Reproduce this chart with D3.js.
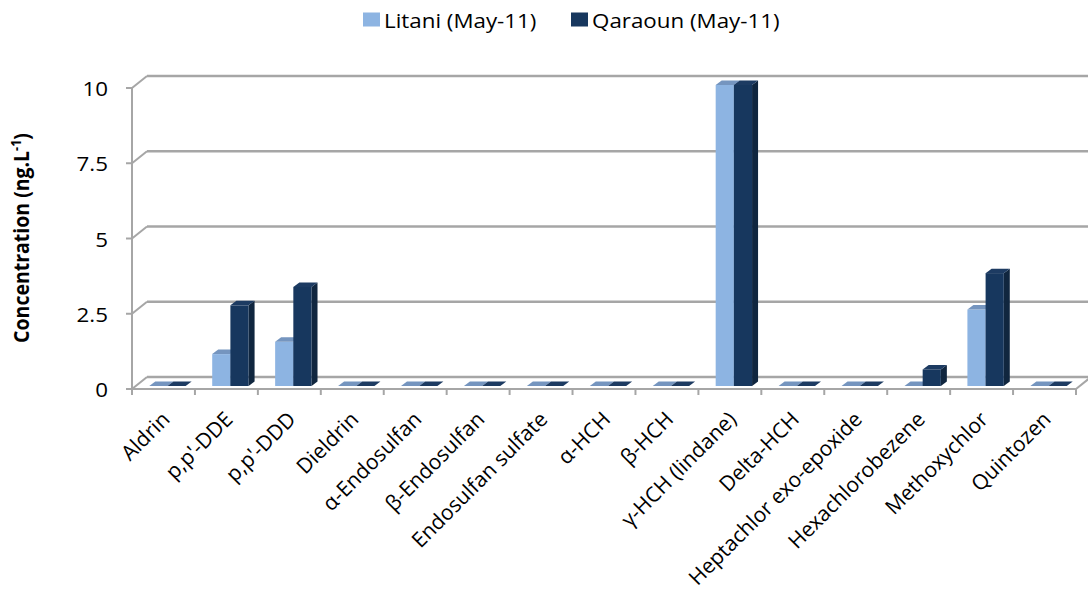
<!DOCTYPE html>
<html>
<head>
<meta charset="utf-8">
<script src="https://cdn.jsdelivr.net/npm/d3@7"></script>
<style>
  html, body { margin: 0; padding: 0; background: #fff; }
  svg { display: block; }
  text { font-family: "Open Sans", "Noto Sans", sans-serif; fill: #000; }
</style>
</head>
<body>
<svg id="chart" width="1088" height="599"></svg>
<script>
// Pesticide concentrations, May 2011
const categories = ["Aldrin", "p,p'-DDE", "p,p'-DDD", "Dieldrin", "\u03b1-Endosulfan",
  "\u03b2-Endosulfan", "Endosulfan sulfate", "\u03b1-HCH", "\u03b2-HCH", "\u03b3-HCH (lindane)",
  "Delta-HCH", "Heptachlor exo-epoxide", "Hexachlorobezene", "Methoxychlor", "Quintozen"];
const seriesNames = ["Litani (May-11)", "Qaraoun (May-11)"];
const litani  = [0, 1.06, 1.47, 0, 0, 0, 0, 0, 0, 10, 0, 0, 0, 2.54, 0];
const qaraoun = [0, 2.68, 3.29, 0, 0, 0, 0, 0, 0, 10, 0, 0, 0.55, 3.75, 0];
const yTicks = [0, 2.5, 5, 7.5, 10];
const yTickLabels = ["0", "2.5", "5", "7.5", "10"];

const colors = {
  front: ["#8db4e2", "#17375e"],
  top:   ["#7595bf", "#1d3b62"],
  side:  ["#6f8db5", "#10263f"]
};

const svg = d3.select("#chart");
const SX = 1.09;        // horizontal widening of the text
const FS = 20.5;        // base font size
const LFS = 21;         // slanted category labels

// front plane of the box and the oblique depth offsets
const x = d3.scaleBand().domain(categories).range([132, 1076]);
const y = d3.scaleLinear().domain([0, 10]).range([389, 88]);
const wall = { dx: 15, dy: -12 };     // back wall depth
const plane = { dx: 4, dy: -3 };      // bars' front plane
const depth = { dx: 6, dy: -4.5 };    // bar thickness
const inner = d3.scaleBand().domain([0, 1]).range([0, x.bandwidth()]).paddingOuter(0.73);

const gridColor = "#a6a6a6";
const g = svg.append("g");

// back wall gridlines
g.selectAll("line.grid").data(yTicks).join("line")
  .attr("x1", 132 + wall.dx).attr("x2", 1076 + wall.dx)
  .attr("y1", d => y(d) + wall.dy).attr("y2", d => y(d) + wall.dy)
  .attr("stroke", gridColor).attr("stroke-width", 2.4);

// left wall: diagonal gridline stubs
g.selectAll("line.diag").data(yTicks).join("line")
  .attr("x1", 132).attr("x2", 132 + wall.dx)
  .attr("y1", d => y(d)).attr("y2", d => y(d) + wall.dy)
  .attr("stroke", gridColor).attr("stroke-width", 2);

// floor right edge
g.append("line")
  .attr("x1", 1076).attr("x2", 1076 + wall.dx)
  .attr("y1", y(0)).attr("y2", y(0) + wall.dy)
  .attr("stroke", gridColor).attr("stroke-width", 2);

// bars
const bars = [];
categories.forEach((c, i) => {
  [litani[i], qaraoun[i]].forEach((v, s) => {
    bars.push({ c, s, v });
  });
});

const barG = svg.append("g");
bars.forEach(b => {
  const x0 = x(b.c) + inner(b.s) + plane.dx;
  const w = inner.bandwidth();
  const yb = y(0) + plane.dy;
  const yt = y(b.v) + plane.dy;
  const gg = barG.append("g");
  // right side face
  gg.append("path")
    .attr("d", `M${x0 + w},${yb}L${x0 + w + depth.dx},${yb + depth.dy}L${x0 + w + depth.dx},${yt + depth.dy}L${x0 + w},${yt}Z`)
    .attr("fill", colors.side[b.s]);
  // front face
  if (b.v > 0) {
    gg.append("rect")
      .attr("x", x0).attr("y", yt).attr("width", w).attr("height", yb - yt)
      .attr("fill", colors.front[b.s]);
  }
  // top face
  gg.append("path")
    .attr("d", `M${x0},${yt}L${x0 + w},${yt}L${x0 + w + depth.dx},${yt + depth.dy}L${x0 + depth.dx},${yt + depth.dy}Z`)
    .attr("fill", colors.top[b.s]);
});

// front axes
const axG = svg.append("g");
axG.append("line")
  .attr("x1", 132).attr("x2", 1076).attr("y1", y(0)).attr("y2", y(0))
  .attr("stroke", gridColor).attr("stroke-width", 2);
axG.append("line")
  .attr("x1", 132).attr("x2", 132).attr("y1", y(10)).attr("y2", y(0))
  .attr("stroke", gridColor).attr("stroke-width", 2);
const xTickPos = categories.map(c => x(c)).concat([x(categories[categories.length - 1]) + x.bandwidth()]);
axG.selectAll("line.xt").data(xTickPos).join("line")
  .attr("x1", d => d).attr("x2", d => d).attr("y1", y(0)).attr("y2", y(0) + 6)
  .attr("stroke", gridColor).attr("stroke-width", 2);
axG.selectAll("line.yt").data(yTicks).join("line")
  .attr("x1", 126).attr("x2", 132).attr("y1", d => y(d)).attr("y2", d => y(d))
  .attr("stroke", gridColor).attr("stroke-width", 2);

// y tick labels
axG.selectAll("text.yl").data(yTicks).join("text")
  .attr("transform", d => `translate(108,${y(d)}) scale(${SX},1)`)
  .attr("text-anchor", "end").attr("dominant-baseline", "central")
  .attr("font-size", FS)
  .text((d, i) => yTickLabels[i]);

// category labels, slanted
axG.selectAll("text.xl").data(categories).join("text")
  .attr("transform", d => `translate(${x(d) + x.bandwidth() / 2 + 2},${y(0) + 26}) rotate(-45)`)
  .attr("text-anchor", "end").attr("dominant-baseline", "central")
  .attr("font-size", LFS)
  .text(d => d);

// y axis title
const title = svg.append("text")
  .attr("transform", `translate(29,238) scale(${SX + 0.05},1) rotate(-90)`)
  .attr("text-anchor", "middle")
  .attr("font-size", 19.5).attr("font-weight", "bold");
title.append("tspan").text("Concentration (ng.L");
title.append("tspan").attr("font-size", 12.5).attr("dy", -7).text("-1");
title.append("tspan").attr("dy", 7).text(")");

// legend
const legend = svg.append("g");
const legendX = [363, 571];
seriesNames.forEach((n, i) => {
  legend.append("rect")
    .attr("x", legendX[i]).attr("y", 12.5).attr("width", 17).attr("height", 14)
    .attr("fill", colors.front[i]);
  legend.append("text")
    .attr("transform", `translate(${legendX[i] + 21},19.5) scale(${SX},1)`)
    .attr("dominant-baseline", "central")
    .attr("font-size", FS)
    .text(n);
});
</script>
</body>
</html>
